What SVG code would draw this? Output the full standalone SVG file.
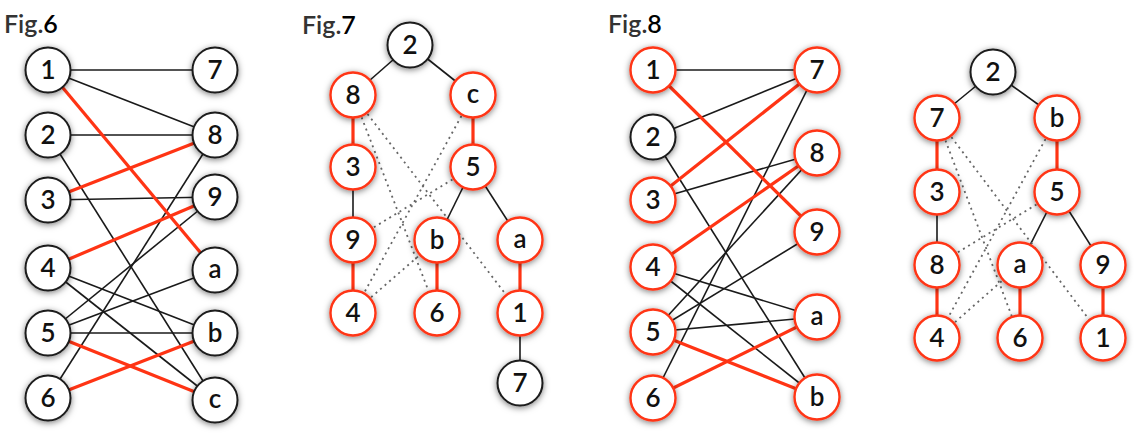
<svg xmlns="http://www.w3.org/2000/svg" width="1145" height="440" viewBox="0 0 1145 440">
<defs>
<filter id="sh" x="-50%" y="-50%" width="200%" height="200%">
<feDropShadow dx="0" dy="1.5" stdDeviation="3" flood-color="#000" flood-opacity="0.5"/>
</filter>
</defs>
<style>
.n circle{fill:#fff;stroke:#1a1a1a;stroke-width:2;filter:url(#sh)}
.n.r circle{stroke:#ff3414;stroke-width:2.4}
.n text{font-family:Lato,"Open Sans","DejaVu Sans",sans-serif;font-size:26px;font-weight:600;fill:#111;text-anchor:middle}
.e line{stroke:#1a1a1a;stroke-width:1.6}
.e line.m{stroke:#ff3414;stroke-width:3.2}
.e line.d{stroke:#666;stroke-width:1.8;stroke-dasharray:2 4}
.fig{font-family:Lato,"Open Sans","DejaVu Sans",sans-serif;font-size:25px;font-weight:600;fill:#333}
.fig tspan{fill:#000}
</style>
<rect width="1145" height="440" fill="#fff"/>
<text class="fig" x="4" y="33">Fig.<tspan>6</tspan></text>
<text class="fig" x="302" y="34">Fig.<tspan>7</tspan></text>
<text class="fig" x="608" y="33">Fig.<tspan>8</tspan></text>

<g id="fig6-connectors" class="e">
<line x1="48" y1="70" x2="215" y2="70"/>
<line x1="48" y1="70" x2="215" y2="135"/>
<line x1="48" y1="135" x2="215" y2="135"/>
<line x1="48" y1="135" x2="215" y2="400"/>
<line x1="48" y1="200" x2="215" y2="197"/>
<line x1="48" y1="268" x2="215" y2="333"/>
<line x1="48" y1="268" x2="215" y2="400"/>
<line x1="48" y1="333" x2="215" y2="197"/>
<line x1="48" y1="333" x2="215" y2="270"/>
<line x1="48" y1="333" x2="215" y2="333"/>
<line x1="48" y1="398" x2="215" y2="135"/>
<line class="m" x1="48" y1="70" x2="215" y2="270"/>
<line class="m" x1="48" y1="200" x2="215" y2="135"/>
<line class="m" x1="48" y1="268" x2="215" y2="197"/>
<line class="m" x1="48" y1="333" x2="215" y2="400"/>
<line class="m" x1="48" y1="398" x2="215" y2="333"/>
</g>
<g id="fig6-n1" class="n"><circle cx="48" cy="70" r="22.5"/><text x="48" y="79">1</text></g>
<g id="fig6-n2" class="n"><circle cx="48" cy="135" r="22.5"/><text x="48" y="144">2</text></g>
<g id="fig6-n3" class="n"><circle cx="48" cy="200" r="22.5"/><text x="48" y="209">3</text></g>
<g id="fig6-n4" class="n"><circle cx="48" cy="268" r="22.5"/><text x="48" y="277">4</text></g>
<g id="fig6-n5" class="n"><circle cx="48" cy="333" r="22.5"/><text x="48" y="342">5</text></g>
<g id="fig6-n6" class="n"><circle cx="48" cy="398" r="22.5"/><text x="48" y="407">6</text></g>
<g id="fig6-n7" class="n"><circle cx="215" cy="70" r="22.5"/><text x="215" y="79">7</text></g>
<g id="fig6-n8" class="n"><circle cx="215" cy="135" r="22.5"/><text x="215" y="144">8</text></g>
<g id="fig6-n9" class="n"><circle cx="215" cy="197" r="22.5"/><text x="215" y="206">9</text></g>
<g id="fig6-na" class="n"><circle cx="215" cy="270" r="22.5"/><text x="215" y="278">a</text></g>
<g id="fig6-nb" class="n"><circle cx="215" cy="333" r="22.5"/><text x="215" y="342">b</text></g>
<g id="fig6-nc" class="n"><circle cx="215" cy="400" r="22.5"/><text x="215" y="408">c</text></g>

<g id="fig7-connectors" class="e">
<line x1="410" y1="45" x2="353" y2="95"/>
<line x1="410" y1="45" x2="473" y2="95"/>
<line x1="353" y1="167" x2="353" y2="240"/>
<line x1="473" y1="167" x2="437" y2="240"/>
<line x1="473" y1="167" x2="520" y2="240"/>
<line x1="520" y1="313" x2="520" y2="383"/>
<line class="m" x1="353" y1="95" x2="353" y2="167"/>
<line class="m" x1="473" y1="95" x2="473" y2="167"/>
<line class="m" x1="353" y1="240" x2="353" y2="313"/>
<line class="m" x1="437" y1="240" x2="437" y2="313"/>
<line class="m" x1="520" y1="240" x2="520" y2="313"/>
<line class="d" x1="353" y1="95" x2="437" y2="313"/>
<line class="d" x1="353" y1="95" x2="520" y2="313"/>
<line class="d" x1="473" y1="95" x2="353" y2="313"/>
<line class="d" x1="473" y1="167" x2="353" y2="240"/>
<line class="d" x1="353" y1="313" x2="437" y2="240"/>
</g>
<g id="fig7-n2" class="n"><circle cx="410" cy="45" r="22.5"/><text x="410" y="54">2</text></g>
<g id="fig7-n8" class="n r"><circle cx="353" cy="95" r="22.5"/><text x="353" y="104">8</text></g>
<g id="fig7-nc" class="n r"><circle cx="473" cy="95" r="22.5"/><text x="473" y="103">c</text></g>
<g id="fig7-n3" class="n r"><circle cx="353" cy="167" r="22.5"/><text x="353" y="176">3</text></g>
<g id="fig7-n5" class="n r"><circle cx="473" cy="167" r="22.5"/><text x="473" y="176">5</text></g>
<g id="fig7-n9" class="n r"><circle cx="353" cy="240" r="22.5"/><text x="353" y="249">9</text></g>
<g id="fig7-nb" class="n r"><circle cx="437" cy="240" r="22.5"/><text x="437" y="249">b</text></g>
<g id="fig7-na" class="n r"><circle cx="520" cy="240" r="22.5"/><text x="520" y="248">a</text></g>
<g id="fig7-n4" class="n r"><circle cx="353" cy="313" r="22.5"/><text x="353" y="322">4</text></g>
<g id="fig7-n6" class="n r"><circle cx="437" cy="313" r="22.5"/><text x="437" y="322">6</text></g>
<g id="fig7-n1" class="n r"><circle cx="520" cy="313" r="22.5"/><text x="520" y="322">1</text></g>
<g id="fig7-n7" class="n"><circle cx="520" cy="383" r="22.5"/><text x="520" y="392">7</text></g>

<g id="fig8-connectors" class="e">
<line x1="653" y1="70" x2="817" y2="70"/>
<line x1="653" y1="137" x2="817" y2="70"/>
<line x1="653" y1="137" x2="817" y2="397"/>
<line x1="653" y1="200" x2="817" y2="153"/>
<line x1="653" y1="267" x2="817" y2="317"/>
<line x1="653" y1="267" x2="817" y2="397"/>
<line x1="653" y1="332" x2="817" y2="153"/>
<line x1="653" y1="332" x2="817" y2="232"/>
<line x1="653" y1="332" x2="817" y2="317"/>
<line x1="653" y1="398" x2="817" y2="70"/>
<line class="m" x1="653" y1="70" x2="817" y2="232"/>
<line class="m" x1="653" y1="200" x2="817" y2="70"/>
<line class="m" x1="653" y1="267" x2="817" y2="153"/>
<line class="m" x1="653" y1="332" x2="817" y2="397"/>
<line class="m" x1="653" y1="398" x2="817" y2="317"/>
</g>
<g id="fig8-n1" class="n r"><circle cx="653" cy="70" r="22.5"/><text x="653" y="79">1</text></g>
<g id="fig8-n2" class="n"><circle cx="653" cy="137" r="22.5"/><text x="653" y="146">2</text></g>
<g id="fig8-n3" class="n r"><circle cx="653" cy="200" r="22.5"/><text x="653" y="209">3</text></g>
<g id="fig8-n4" class="n r"><circle cx="653" cy="267" r="22.5"/><text x="653" y="276">4</text></g>
<g id="fig8-n5" class="n r"><circle cx="653" cy="332" r="22.5"/><text x="653" y="341">5</text></g>
<g id="fig8-n6" class="n r"><circle cx="653" cy="398" r="22.5"/><text x="653" y="407">6</text></g>
<g id="fig8-n7" class="n r"><circle cx="817" cy="70" r="22.5"/><text x="817" y="79">7</text></g>
<g id="fig8-n8" class="n r"><circle cx="817" cy="153" r="22.5"/><text x="817" y="162">8</text></g>
<g id="fig8-n9" class="n r"><circle cx="817" cy="232" r="22.5"/><text x="817" y="241">9</text></g>
<g id="fig8-na" class="n r"><circle cx="817" cy="317" r="22.5"/><text x="817" y="325">a</text></g>
<g id="fig8-nb" class="n r"><circle cx="817" cy="397" r="22.5"/><text x="817" y="406">b</text></g>

<g id="tree2-connectors" class="e">
<line x1="993" y1="72" x2="937" y2="118"/>
<line x1="993" y1="72" x2="1057" y2="118"/>
<line x1="937" y1="192" x2="937" y2="265"/>
<line x1="1057" y1="192" x2="1020" y2="265"/>
<line x1="1057" y1="192" x2="1103" y2="265"/>
<line class="m" x1="937" y1="118" x2="937" y2="192"/>
<line class="m" x1="1057" y1="118" x2="1057" y2="192"/>
<line class="m" x1="937" y1="265" x2="937" y2="338"/>
<line class="m" x1="1020" y1="265" x2="1020" y2="338"/>
<line class="m" x1="1103" y1="265" x2="1103" y2="338"/>
<line class="d" x1="937" y1="118" x2="1020" y2="338"/>
<line class="d" x1="937" y1="118" x2="1103" y2="338"/>
<line class="d" x1="1057" y1="118" x2="937" y2="338"/>
<line class="d" x1="1057" y1="192" x2="937" y2="265"/>
<line class="d" x1="937" y1="338" x2="1020" y2="265"/>
</g>
<g id="tree2-n2" class="n"><circle cx="993" cy="72" r="22.5"/><text x="993" y="81">2</text></g>
<g id="tree2-n7" class="n r"><circle cx="937" cy="118" r="22.5"/><text x="937" y="127">7</text></g>
<g id="tree2-nb" class="n r"><circle cx="1057" cy="118" r="22.5"/><text x="1057" y="127">b</text></g>
<g id="tree2-n3" class="n r"><circle cx="937" cy="192" r="22.5"/><text x="937" y="201">3</text></g>
<g id="tree2-n5" class="n r"><circle cx="1057" cy="192" r="22.5"/><text x="1057" y="201">5</text></g>
<g id="tree2-n8" class="n r"><circle cx="937" cy="265" r="22.5"/><text x="937" y="274">8</text></g>
<g id="tree2-na" class="n r"><circle cx="1020" cy="265" r="22.5"/><text x="1020" y="273">a</text></g>
<g id="tree2-n9" class="n r"><circle cx="1103" cy="265" r="22.5"/><text x="1103" y="274">9</text></g>
<g id="tree2-n4" class="n r"><circle cx="937" cy="338" r="22.5"/><text x="937" y="347">4</text></g>
<g id="tree2-n6" class="n r"><circle cx="1020" cy="338" r="22.5"/><text x="1020" y="347">6</text></g>
<g id="tree2-n1" class="n r"><circle cx="1103" cy="338" r="22.5"/><text x="1103" y="347">1</text></g>
</svg>
